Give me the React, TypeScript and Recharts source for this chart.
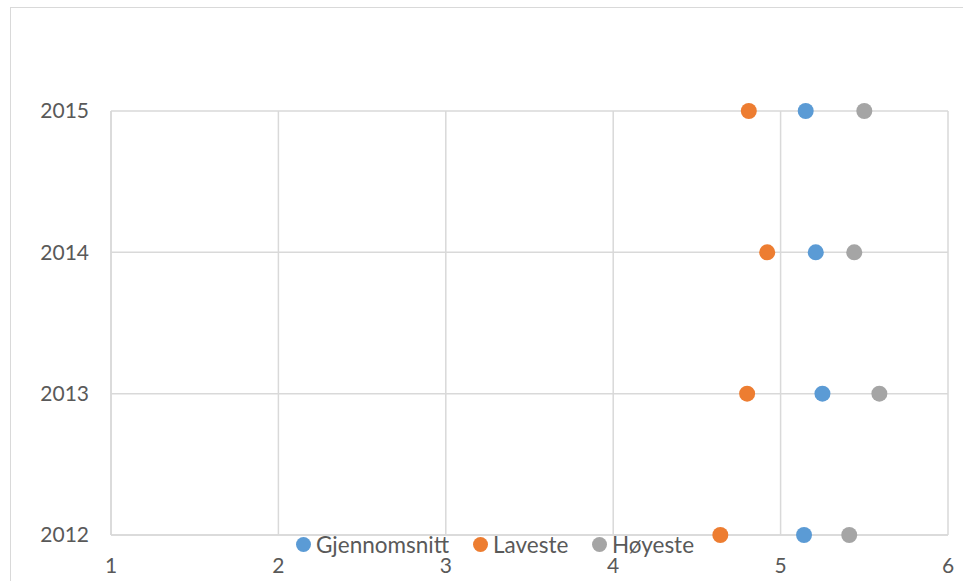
import {
	ScatterChart,
	Scatter,
	XAxis,
	YAxis,
	CartesianGrid,
	Legend,
} from 'recharts';

const years = [2012, 2013, 2014, 2015];
const avg = [5.14, 5.25, 5.21, 5.15];
const low = [4.64, 4.8, 4.92, 4.81];
const high = [5.41, 5.59, 5.44, 5.5];
const xTicks = [1, 2, 3, 4, 5, 6];

const series = [
	{name: 'Gjennomsnitt', values: avg, color: '#5b9bd5'},
	{name: 'Laveste', values: low, color: '#ed7d31'},
	{name: 'Høyeste', values: high, color: '#a5a5a5'},
];

const FONT = 'Lato, "Open Sans", sans-serif';
const TEXT = '#595959';
const GRID = '#d9d9d9';
// widths of the legend items, dot to next dot
const legendWidths = [177, 119, 110];

const Dot = (props: any) => {
	const {cx, cy, fill} = props;
	return <circle cx={cx} cy={cy} r={8} fill={fill} />;
};

const LegendContent = () => (
	<div style={{display: 'flex', alignItems: 'center', fontFamily: FONT, fontSize: 22.5, color: TEXT}}>
		{series.map((s, i) => (
			<div key={s.name} style={{display: 'flex', alignItems: 'center', width: legendWidths[i]}}>
				<span
					style={{
						display: 'inline-block',
						width: 15,
						height: 15,
						borderRadius: '50%',
						background: s.color,
						marginRight: 5,
					}}
				/>
				<span>{s.name}</span>
			</div>
		))}
	</div>
);

export default function App() {
	return (
		<div
			style={{
				position: 'fixed',
				left: 0,
				top: 0,
				width: 963,
				height: 581,
				overflow: 'hidden',
				background: '#fff',
			}}
		>
			<div
				style={{
					position: 'absolute',
					left: 10,
					top: 7,
					width: 960,
					height: 600,
					border: `1px solid ${GRID}`,
				}}
			/>
			<div style={{position: 'absolute', left: 0, top: 0}}>
				<ScatterChart
					width={963}
					height={581}
					margin={{top: 111, right: 15, left: 0, bottom: 0}}
				>
					<CartesianGrid stroke={GRID} strokeWidth={1.5} />
					<XAxis
						type="number"
						dataKey="x"
						domain={[1, 6]}
						ticks={xTicks}
						height={46}
						axisLine={{stroke: GRID, strokeWidth: 1.5}}
						tickLine={false}
						tickMargin={17}
						tick={{fill: TEXT, fontSize: 21, fontFamily: FONT}}
					/>
					<YAxis
						type="number"
						dataKey="y"
						domain={[2012, 2015]}
						ticks={years}
						width={111}
						axisLine={{stroke: GRID, strokeWidth: 1.5}}
						tickLine={false}
						tickMargin={16}
						tick={{fill: TEXT, fontSize: 21, fontFamily: FONT}}
					/>
					{series.map((s) => (
						<Scatter
							key={s.name}
							name={s.name}
							data={years.map((y, i) => ({x: s.values[i], y}))}
							fill={s.color}
							shape={Dot}
							isAnimationActive={false}
						/>
					))}
					<Legend
						layout="horizontal"
						verticalAlign="middle"
						align="center"
						content={LegendContent}
						wrapperStyle={{top: 531, left: 296, width: 'auto'}}
					/>
				</ScatterChart>
			</div>
		</div>
	);
}
